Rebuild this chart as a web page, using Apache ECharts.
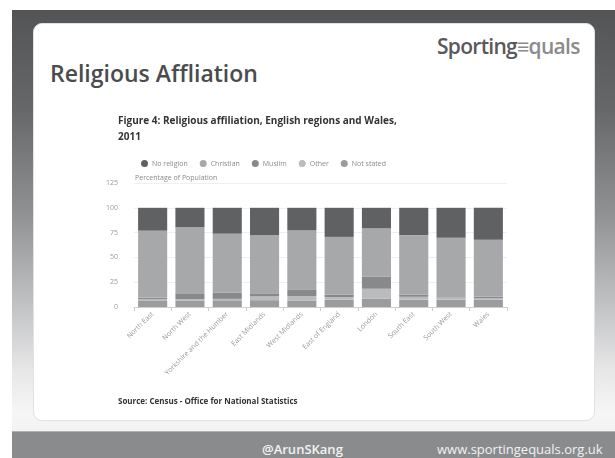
<!DOCTYPE html>
<html>
<head>
<meta charset="utf-8">
<script src="https://cdn.jsdelivr.net/npm/echarts@6/dist/echarts.min.js"></script>
<style>
  html, body { margin:0; padding:0; width:615px; height:458px; overflow:hidden; background:#fff; }
  #slide { position:absolute; left:12px; top:10px; width:603px; height:448px;
    background: linear-gradient(to bottom, #535456 0%, #666769 22%, #8f9092 45%, #bfc0c2 65%, #e6e6e7 80%, #f6f6f6 90%, #eeeeee 100%); }
  #footer { position:absolute; left:12px; top:431px; width:603px; height:27px; background:#8a8b8d; border-top:1px solid #b0b1b3; }
  #card { position:absolute; left:33px; top:23px; width:562px; height:398px; background:#fff; border-radius:9px; border:1px solid #e2e2e2; box-sizing:border-box; }
  #mainTitle { position:absolute; left:50px; top:57px; font-family:"Open Sans", sans-serif; font-size:23px; font-weight:600; color:#4a4b4d; white-space:nowrap; }
  #logo { position:absolute; left:437px; top:32px; font-family:"Open Sans", sans-serif; font-size:21px; font-weight:600; color:#58595b; white-space:nowrap; letter-spacing:-0.7px; }
  #logo .e { color:#8a8b8d; font-weight:700; }
  #logo .q { color:#8a8b8d; font-weight:600; }
  .ft { position:absolute; top:440px; font-family:"Open Sans", sans-serif; font-size:13px; font-weight:600; color:#f2f2f2; white-space:nowrap; }
  #chart { position:absolute; left:0; top:0; width:615px; height:458px; }
</style>
</head>
<body>
<div id="slide"></div>
<div id="footer"></div>
<div id="card"></div>
<div id="mainTitle">Religious Affliation</div>
<div id="logo">Sporting<span class="e">≡</span><span class="q">quals</span></div>
<div class="ft" style="left:262px;">@ArunSKang</div>
<div class="ft" style="left:437px; font-weight:400;">www.sportingequals.org.uk</div>
<div id="chart"></div>
<script>
const regions = ['North East','North West','Yorkshire and the Humber','East Midlands','West Midlands','East of England','London','South East','South West','Wales'];
const notStated = [6.7, 6.6, 6.8, 6.9, 6.6, 7.3, 8.5, 7.4, 7.4, 7.6];
const other     = [1.4, 1.4, 1.4, 3.8, 4.5, 2.6, 9.9, 2.9, 1.4, 1.2];
const muslim    = [1.4, 5.1, 6.2, 3.1, 6.7, 2.5, 12.4, 2.3, 0.5, 1.5];
const christian = [67.5, 67.3, 59.5, 58.8, 59.5, 58.3, 48.4, 59.8, 60.5, 57.6];
const noReligion= [23.0, 19.6, 26.1, 27.4, 22.7, 29.3, 20.8, 27.6, 30.2, 32.1];
const yTicks = [0, 25, 50, 75, 100, 125];
const legendOrder = ['No religion','Christian','Muslim','Other','Not stated'];

const colors = {
  'No religion': '#606163',
  'Christian': '#a7a8aa',
  'Muslim': '#88898b',
  'Other': '#babbbd',
  'Not stated': '#9b9c9e'
};

const chart = echarts.init(document.getElementById('chart'), null, {renderer:'canvas'});
function mk(name, data) {
  return { name, type:'bar', stack:'total', data, barWidth:'78%',
    itemStyle:{ color: colors[name] }, emphasis:{ disabled:true } };
}
chart.setOption({
  backgroundColor: 'transparent',
  animation: false,
  textStyle: { fontFamily: '"Open Sans", sans-serif' },
  title: {
    text: 'Figure 4: Religious affiliation, English regions and Wales,\n2011',
    left: 118, top: 113, padding: 0,
    textStyle: { fontSize: 10, fontWeight: 'bold', color: '#333333', lineHeight: 16, fontFamily: '"Open Sans", sans-serif' }
  },
  legend: {
    data: legendOrder, left: 136, top: 155, icon: 'circle', itemWidth: 7, itemHeight: 7, itemGap: 12,
    textStyle: { fontSize: 7, color: '#8a8a8a', padding: [0,0,0,-1] }
  },
  grid: { left: 134, right: 108, top: 183, bottom: 151, containLabel: false },
  xAxis: {
    type: 'category', data: regions,
    axisLine: { lineStyle: { color: '#cfcfcf' } },
    axisTick: { show: true, length: 4, lineStyle: { color: '#cfcfcf' } },
    axisLabel: { rotate: 45, interval: 0, fontSize: 7, color: '#9a9a9a', margin: 6 }
  },
  yAxis: {
    type: 'value', min: yTicks[0], max: yTicks[yTicks.length-1], interval: 25,
    name: 'Percentage of Population', nameLocation: 'end', nameGap: 2,
    nameTextStyle: { fontSize: 7, color: '#8a8a8a', align: 'left', padding: [0,0,0,1] },
    axisLine: { show: false }, axisTick: { show: false },
    axisLabel: { fontSize: 7, color: '#9a9a9a', margin: 16 },
    splitLine: { lineStyle: { color: '#efefef' } }
  },
  graphic: [{
    type: 'text', left: 118, top: 398,
    style: { text: 'Source: Census - Office for National Statistics', fontSize: 8, fontWeight: 'bold', fill: '#333333', fontFamily: '"Open Sans", sans-serif' }
  }],
  series: [
    mk('Not stated', notStated),
    mk('Other', other),
    mk('Muslim', muslim),
    mk('Christian', christian),
    mk('No religion', noReligion)
  ]
});
</script>
</body>
</html>
